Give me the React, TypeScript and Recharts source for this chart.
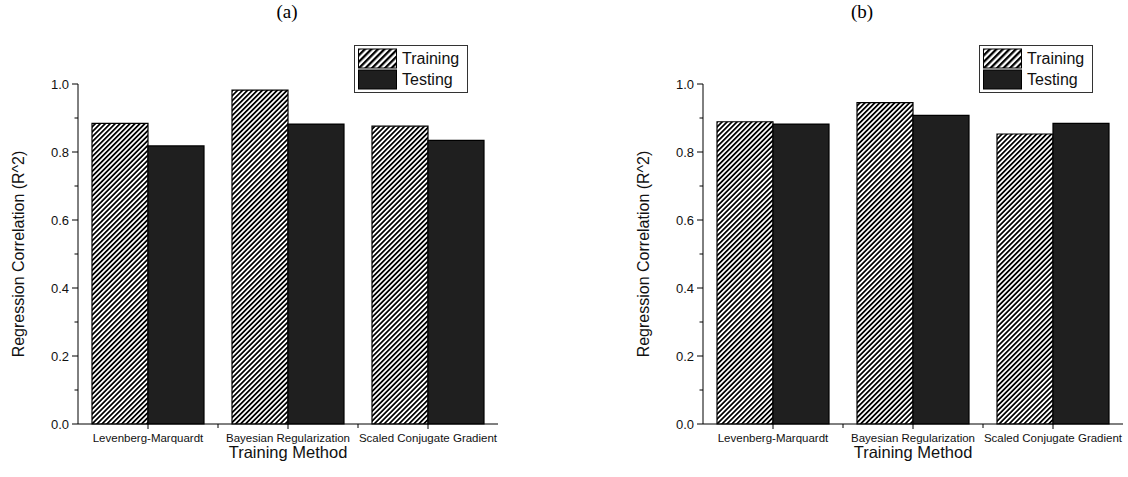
import React from 'react';
import { BarChart, Bar, XAxis, YAxis } from 'recharts';

const methods = ['Levenberg-Marquardt', 'Bayesian Regularization', 'Scaled Conjugate Gradient'];
const trainingA = [0.884, 0.982, 0.876];
const testingA = [0.818, 0.882, 0.834];
const trainingB = [0.889, 0.945, 0.853];
const testingB = [0.882, 0.908, 0.884];
const yTicks = [0, 0.1, 0.2, 0.3, 0.4, 0.5, 0.6, 0.7, 0.8, 0.9, 1.0];
const seriesNames = ['Training', 'Testing'];

const SANS = 'Arial, "Liberation Sans", sans-serif';
const SERIF = '"Times New Roman", "Liberation Serif", serif';
const DARK = '#1f1f1f';

function YTick(props: any) {
  const { x, y, payload } = props;
  const major = Math.round(payload.value * 10) % 2 === 0;
  return (
    <g>
      <line x1={x - (major ? 6 : 3.5)} x2={x} y1={y} y2={y} stroke="#000" strokeWidth={1} />
      {major && (
        <text x={x - 9} y={y} dy="0.36em" textAnchor="end" fontSize={13} fontFamily={SANS} fill="#111">
          {payload.value.toFixed(1)}
        </text>
      )}
    </g>
  );
}

function XTick(props: any) {
  const { x, y, payload, index, width, visibleTicksCount } = props;
  const half = (width || 420) / (visibleTicksCount || 3) / 2;
  const last = index === (visibleTicksCount || 3) - 1;
  return (
    <g>
      <line x1={x} x2={x} y1={y} y2={y + 5} stroke="#000" />
      {!last && <line x1={x + half} x2={x + half} y1={y} y2={y + 4} stroke="#000" />}
      <text x={x} y={y + 10} dy="0.71em" textAnchor="middle" fontSize={11.5} fontFamily={SANS} fill="#111">
        {payload.value}
      </text>
    </g>
  );
}

function YLabel(props: any) {
  const vb = props.viewBox;
  const cx = vb.x + 18;
  const cy = vb.y + vb.height / 2;
  return (
    <text x={cx} y={cy} transform={`rotate(-90 ${cx} ${cy})`} textAnchor="middle" dominantBaseline="central"
      fontSize={16} fontFamily={SANS} fill="#111">
      Regression Correlation (R^2)
    </text>
  );
}

function XLabel(props: any) {
  const vb = props.viewBox;
  return (
    <text x={vb.x + vb.width / 2} y={vb.y + 34} textAnchor="middle" fontSize={16.5} fontFamily={SANS} fill="#111">
      Training Method
    </text>
  );
}

function HatchDef({ id, size }: { id: string; size: number }) {
  return (
    <pattern id={id} patternUnits="userSpaceOnUse" width={size} height={size} patternTransform="rotate(45)">
      <rect width={size} height={size} fill="#fff" />
      <rect width={size / 2} height={size} fill="#000" />
    </pattern>
  );
}

function LegendBox({ id }: { id: string }) {
  return (
    <div style={{
      position: 'absolute', left: 354, top: 45, width: 112, height: 46,
      border: '1px solid #333', background: '#fff', fontFamily: SANS, fontSize: 16, color: '#111',
    }}>
      {seriesNames.map((name, i) => (
        <div key={name} style={{ display: 'flex', alignItems: 'center', height: 21, marginTop: i === 0 ? 2 : 0 }}>
          <svg width={40} height={21} style={{ marginLeft: 3, display: 'block' }}>
            <defs><HatchDef id={id} size={4.6} /></defs>
            <rect x={0.5} y={1} width={38} height={19} fill={i === 0 ? `url(#${id})` : DARK} stroke="#000" strokeWidth={1} />
          </svg>
          <span style={{ marginLeft: 4, lineHeight: '21px' }}>{name}</span>
        </div>
      ))}
    </div>
  );
}

function Panel({ training, testing, tag, left, title, titleX }: {
  training: number[]; testing: number[]; tag: string; left: number; title: string; titleX: number;
}) {
  const data = methods.map((m, i) => ({ method: m, training: training[i], testing: testing[i] }));
  const hatch = `hatch${tag}`;
  return (
    <>
      <div style={{
        position: 'absolute', left: titleX - 30, top: 1, width: 60, textAlign: 'center',
        fontFamily: SERIF, fontSize: 19, color: '#000',
      }}>{title}</div>
      <div style={{ position: 'absolute', left, top: 0, width: 503, height: 477 }}>
        <BarChart width={503} height={477} data={data} margin={{ top: 84, right: 5, bottom: 0, left: 0 }}
          barCategoryGap="10%" barGap={0}>
          <defs><HatchDef id={hatch} size={3.5} /></defs>
          <XAxis dataKey="method" height={53} tickSize={0} tickMargin={0} tickLine={false}
            axisLine={{ stroke: '#000', strokeWidth: 1 }} tick={<XTick />} interval={0} label={XLabel} />
          <YAxis type="number" domain={[0, 1]} ticks={yTicks} interval={0} width={78} tickSize={0} tickMargin={0}
            tickLine={false} axisLine={{ stroke: '#000', strokeWidth: 1 }} tick={<YTick />} label={YLabel} />
          <Bar dataKey="training" fill={`url(#${hatch})`} stroke="#000" strokeWidth={1.2} isAnimationActive={false} />
          <Bar dataKey="testing" fill={DARK} stroke="#000" strokeWidth={1.2} isAnimationActive={false} />
        </BarChart>
        <LegendBox id={`leg${tag}`} />
      </div>
    </>
  );
}

export default function App() {
  return (
    <div style={{ position: 'absolute', left: 0, top: 0, width: 1128, height: 477, background: '#fff', overflow: 'hidden' }}>
      <Panel training={trainingA} testing={testingA} tag="A" left={0} title="(a)" titleX={287} />
      <Panel training={trainingB} testing={testingB} tag="B" left={625} title="(b)" titleX={862} />
    </div>
  );
}
